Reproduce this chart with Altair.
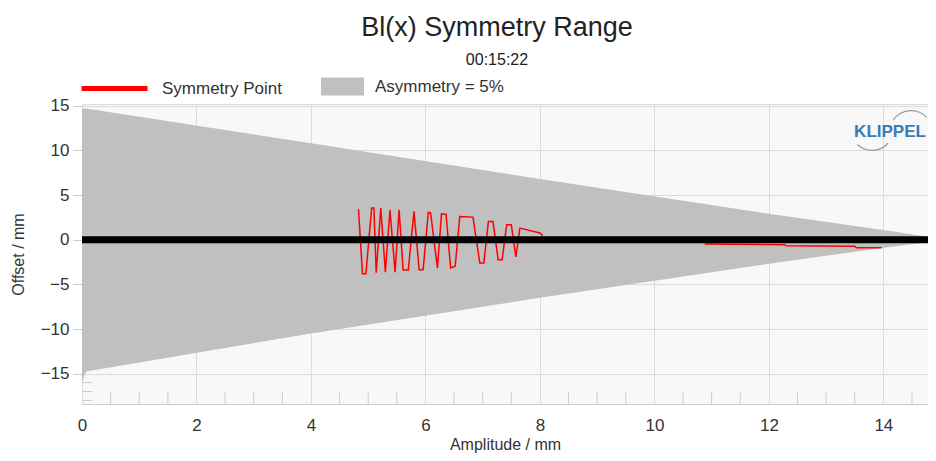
import altair as alt
import pandas as pd

FONT = "Liberation Sans"

# Symmetry point (red) - two visible segments
amp_red_a = [4.83, 4.90, 4.96, 5.06, 5.10, 5.14, 5.22, 5.30, 5.38, 5.47, 5.54, 5.61, 5.70,
             5.80, 5.89, 5.96, 6.05, 6.09, 6.21, 6.28, 6.36, 6.44, 6.52, 6.60, 6.83, 6.95,
             7.02, 7.10, 7.18, 7.27, 7.34, 7.42, 7.50, 7.58, 7.65, 8.00, 8.05]
off_red_a = [3.43, -3.80, -3.80, 3.54, 3.54, -3.70, 3.54, -3.65, 3.35, -3.65, 3.35, -3.40, -3.40,
             3.17, -3.35, -3.35, 3.05, 3.00, -3.17, 2.90, 2.85, -3.17, -2.98, 2.60, 2.53, -2.60,
             -2.60, 2.05, 2.05, -2.23, -2.23, 1.68, 1.68, -1.93, 1.30, 0.75, 0.45]
amp_red_b = [10.88, 12.28, 12.30, 13.50, 13.53, 13.97]
off_red_b = [-0.48, -0.56, -0.67, -0.74, -0.90, -0.90]

# Asymmetry = 5% envelope
amp_env = [0.0, 0.07, 4.0, 8.0, 12.0, 14.0, 15.0]
upper_env = [14.7, 14.7, 10.8, 6.8, 2.9, 1.1, 0.1]
lower_env = [-16.0, -14.75, -10.5, -6.5, -2.7, -0.9, -0.1]

x_ticks = [0, 2, 4, 6, 8, 10, 12, 14]
y_ticks = [-15, -10, -5, 0, 5, 10, 15]
minor_x = [0.5, 1, 1.5, 2.5, 3, 3.5, 4.5, 5, 5.5, 6.5, 7, 7.5, 8.5, 9, 9.5,
           10.5, 11, 11.5, 12.5, 13, 13.5, 14.5]
minor_y = [-16, -17, -18]

X_DOM = [0, 14.78]
Y_DOM = [-18.4, 15.2]

red_df = pd.DataFrame({
    "amp": amp_red_a + amp_red_b,
    "off": off_red_a + off_red_b,
    "seg": ["a"] * len(amp_red_a) + ["b"] * len(amp_red_b),
    "series": "Symmetry Point",
})
env_df = pd.DataFrame({"amp": amp_env, "upper": upper_env, "lower": lower_env,
                       "series": "Asymmetry = 5%"})
minor_x_df = pd.DataFrame({"amp": minor_x, "y0": Y_DOM[0], "y1": -17.05})
minor_y_df = pd.DataFrame({"off": minor_y, "x0": 0.0, "x1": 0.18})

xscale = alt.Scale(domain=X_DOM, nice=False, zero=False)
yscale = alt.Scale(domain=Y_DOM, nice=False, zero=False)

xaxis = alt.Axis(values=x_ticks, title="Amplitude / mm", grid=True, gridColor="#dcdcdc",
                 ticks=False, labelPadding=13, domainColor="#cccccc", labelFlush=False,
                 labelFontSize=17, titleFontSize=16, titleFontWeight="normal",
                 labelColor="#333333", titleColor="#333333", titlePadding=3,
                 labelFont=FONT, titleFont=FONT, format="d")
yaxis = alt.Axis(values=y_ticks, title="Offset / mm", grid=True, gridColor="#dcdcdc",
                 tickSize=9, tickColor="#cccccc", domain=False, labelPadding=4,
                 labelFontSize=17, titleFontSize=16, titleFontWeight="normal",
                 labelColor="#333333", titleColor="#333333", titlePadding=14,
                 labelFont=FONT, titleFont=FONT, format="d")

area = alt.Chart(env_df).mark_area(clip=True, color="#c0c0c0").encode(
    x=alt.X("amp:Q", scale=xscale, axis=xaxis),
    y=alt.Y("upper:Q", scale=yscale, axis=yaxis),
    y2="lower:Q",
    fill=alt.Fill("series:N",
                  scale=alt.Scale(domain=["Asymmetry = 5%"], range=["#c0c0c0"]),
                  legend=alt.Legend(orient="none", legendX=239, legendY=-39, title=None,
                                    padding=0, symbolType="M-1,-0.419L1,-0.419L1,0.419L-1,0.419Z",
                                    symbolSize=1849, symbolStrokeWidth=0, labelOffset=11,
                                    labelFontSize=17, labelFont=FONT, labelColor="#333333")),
)

minor_ticks_x = alt.Chart(minor_x_df).mark_rule(color="#cccccc", strokeWidth=1).encode(
    x="amp:Q", y="y0:Q", y2="y1:Q")
minor_ticks_y = alt.Chart(minor_y_df).mark_rule(color="#cccccc", strokeWidth=1).encode(
    x="x0:Q", x2="x1:Q", y="off:Q")

line = alt.Chart(red_df).mark_line(strokeWidth=1.5, clip=True).encode(
    x="amp:Q", y="off:Q", detail="seg:N",
    stroke=alt.Stroke("series:N",
                      scale=alt.Scale(domain=["Symmetry Point"], range=["#ff0000"]),
                      legend=alt.Legend(orient="none", legendX=-3, legendY=-51, title=None,
                                        padding=0, symbolType="stroke", symbolSize=4356,
                                        symbolStrokeWidth=5, labelOffset=12,
                                        labelFontSize=17, labelFont=FONT,
                                        labelColor="#333333")),
)

zero_line = alt.Chart(pd.DataFrame({"off": [0.0]})).mark_rule(
    color="black", strokeWidth=7).encode(y="off:Q")

logo_text = alt.Chart(pd.DataFrame({"t": ["KLIPPEL"]})).mark_text(
    font=FONT, fontSize=17, fontWeight="bold", color="#3a7cb6", align="center",
    baseline="middle").encode(x=alt.value(808), y=alt.value(28), text="t:N")
logo_arc1 = alt.Chart(pd.DataFrame({"t": ["a"]})).mark_arc(
    color="#999999", radius=22, radius2=20.8, theta=5.3, theta2=7.1).encode(
    x=alt.value(829), y=alt.value(28))
logo_arc2 = alt.Chart(pd.DataFrame({"t": ["b"]})).mark_arc(
    color="#999999", radius=22, radius2=20.8, theta=2.3, theta2=3.9).encode(
    x=alt.value(790), y=alt.value(25))

chart = alt.layer(area, minor_ticks_x, minor_ticks_y, line, zero_line,
                  logo_text, logo_arc1, logo_arc2).properties(
    width=846, height=300,
    autosize=alt.AutoSizeParams(type="none"),
    padding={"left": 74, "top": 96, "right": 0, "bottom": 49},
    title=alt.TitleParams(text="Bl(x) Symmetry Range", subtitle="00:15:22",
                          fontSize=27, subtitleFontSize=16, font=FONT, subtitleFont=FONT,
                          fontWeight="normal", color="#222222", subtitleColor="#222222",
                          anchor="middle", dx=-8, offset=-16, subtitlePadding=10),
).configure_view(stroke="#dcdcdc", fill="#f8f8f8")

chart.save("out.html", embed_options={"renderer": "svg", "actions": False})
